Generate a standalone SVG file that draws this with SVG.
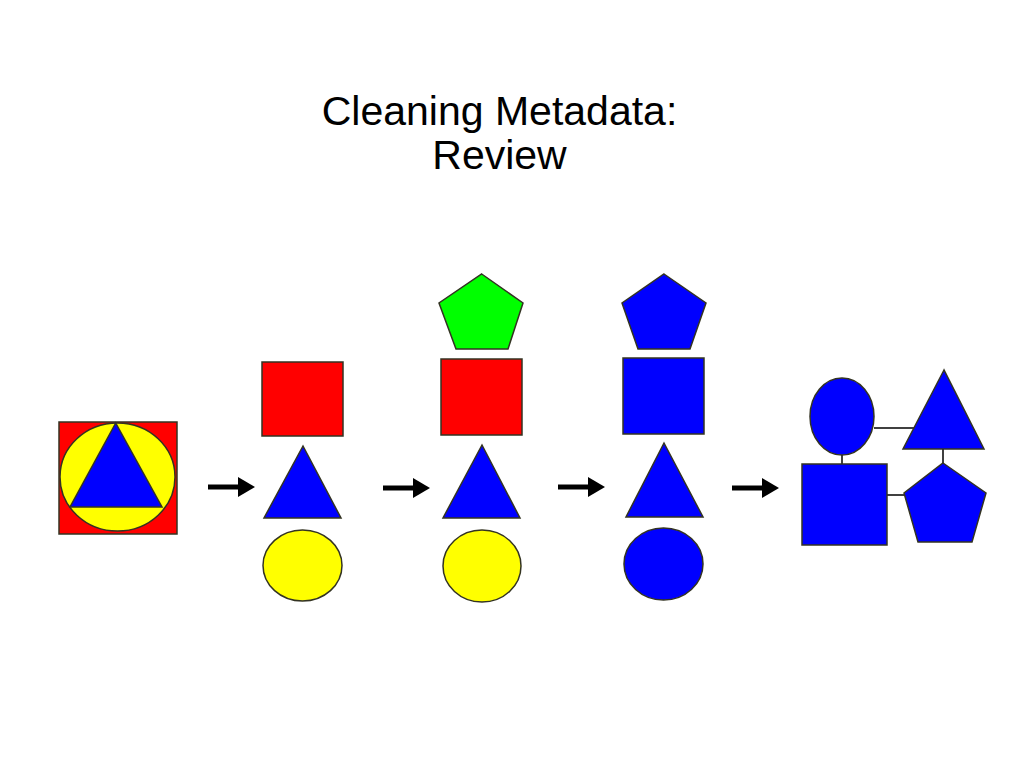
<svg xmlns="http://www.w3.org/2000/svg" width="1024" height="768" viewBox="0 0 1024 768">
<defs>
<style>
.s{stroke:#333322;stroke-width:1.5}
.r{fill:#ff0000}.y{fill:#ffff00}.b{fill:#0000ff}.g{fill:#00ff00}
.t{font-family:"Liberation Sans",Arial,sans-serif;font-size:41px;fill:#000;text-anchor:middle}
.ln{stroke:#000;stroke-width:1.5;fill:none}
.ar{stroke:#000;stroke-width:5;fill:none}
</style>
<marker id="ah" markerWidth="4" markerHeight="4" refX="0" refY="2" orient="auto" markerUnits="strokeWidth" viewBox="0 0 4 4">
<path d="M0,0 L3.4,2 L0,4 Z" fill="#000"/>
</marker>
</defs>
<rect width="1024" height="768" fill="#fff"/>
<g id="title">
<text class="t" x="499.5" y="125">Cleaning Metadata:</text>
<text class="t" x="499.5" y="169">Review</text>
</g>
<g id="combined">
<rect class="s r" x="59" y="422" width="118" height="112"/>
<ellipse class="s y" cx="117.5" cy="477" rx="57.5" ry="54"/>
<polygon class="s b" points="115.7,423 70,507 162,507"/>
</g>
<g id="stage1">
<rect class="s r" x="262" y="362" width="81" height="74"/>
<polygon class="s b" points="303,446 264,518 341,518"/>
<ellipse class="s y" cx="302.5" cy="565.5" rx="39.5" ry="35.5"/>
</g>
<g id="stage2">
<polygon class="s g" points="481.7,274 523,303 508,349 456,349 439,303"/>
<rect class="s r" x="441" y="359" width="81" height="76"/>
<polygon class="s b" points="482,445 443,518 520,518"/>
<ellipse class="s y" cx="482" cy="566" rx="39" ry="36"/>
</g>
<g id="stage3">
<polygon class="s b" points="664,274 706,303 690,349 638,349 622,303"/>
<rect class="s b" x="623" y="358" width="81" height="76"/>
<polygon class="s b" points="664,443 626,517 703,517"/>
<ellipse class="s b" cx="663.5" cy="564" rx="39.5" ry="36"/>
</g>
<g id="connectors">
<line class="ar" x1="208" y1="487" x2="238" y2="487" marker-end="url(#ah)"/>
<line class="ar" x1="383" y1="488" x2="413" y2="488" marker-end="url(#ah)"/>
<line class="ar" x1="558" y1="487" x2="588" y2="487" marker-end="url(#ah)"/>
<line class="ar" x1="732" y1="488" x2="762" y2="488" marker-end="url(#ah)"/>
<line class="ln" x1="874" y1="428" x2="915" y2="428"/>
<line class="ln" x1="842" y1="455" x2="842" y2="464"/>
<line class="ln" x1="943" y1="449" x2="943" y2="463"/>
<line class="ln" x1="887" y1="495" x2="905" y2="495"/>
</g>
<g id="final-ellipse"><ellipse class="s b" cx="842" cy="416.5" rx="32" ry="38.5"/></g>
<g id="final-triangle"><polygon class="s b" points="944,370 903,449 984,449"/></g>
<g id="final-square"><rect class="s b" x="802" y="464" width="85" height="81"/></g>
<g id="final-pentagon"><polygon class="s b" points="943,463 986,493 972,542 918,542 904,493"/></g>
</svg>
